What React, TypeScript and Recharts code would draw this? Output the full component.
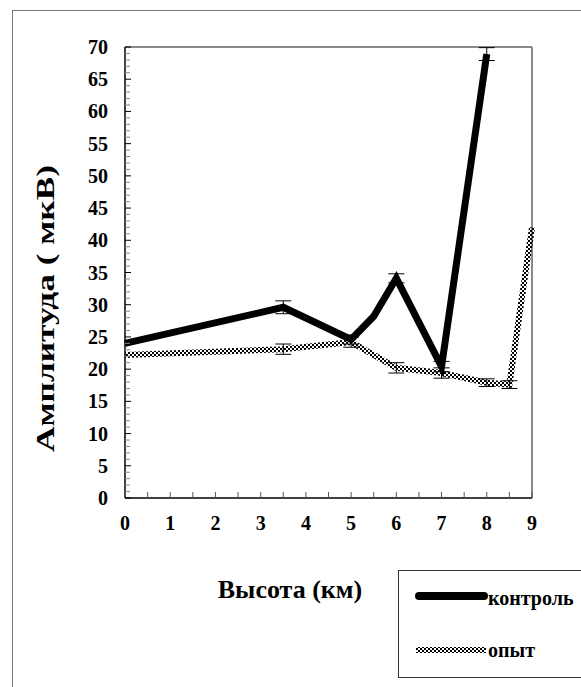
import { LineChart, Line, XAxis, YAxis, ErrorBar, ReferenceLine } from "recharts";

// высота (км) и амплитуда (мкВ)
const controlHeights = [0, 3.5, 5, 5.5, 6, 7, 8];
const controlValues = [24, 29.6, 24.6, 28.2, 34.1, 20.4, 68.9];
const controlErrors = [null, 1, 0.7, null, 0.7, 0.8, 1];

const opytHeights = [0, 3.5, 5, 6, 7, 8, 8.5, 9];
const opytValues = [22.2, 23.1, 24.2, 20.2, 19.4, 17.9, 17.6, 42];
const opytErrors = [null, 0.8, 0.8, 0.8, 0.8, 0.6, 0.6, null];

const xTicks = [0, 0.5, 1, 1.5, 2, 2.5, 3, 3.5, 4, 4.5, 5, 5.5, 6, 6.5, 7, 7.5, 8, 8.5, 9];
const yTicks = Array.from({ length: 71 }, (_, i) => i);

const controlData = controlHeights.map((h, i) => ({ h, v: controlValues[i], err: controlErrors[i] }));
const opytData = opytHeights.map((h, i) => ({ h, v: opytValues[i], err: opytErrors[i] }));

const textStyle = { fontFamily: "Liberation Serif", fontWeight: 700 };

const XTick = ({ x, y, payload }: any) => {
  const v = payload.value;
  return (
    <g>
      <line x1={x} x2={x} y1={y} y2={y - 6} stroke="#555" strokeWidth={1} />
      {Number.isInteger(v) && (
        <text x={x} y={y + 32} textAnchor="middle" style={textStyle} fontSize={20} fill="#000">
          {v}
        </text>
      )}
    </g>
  );
};

const YTick = ({ x, y, payload }: any) => {
  const v = payload.value;
  const major = v % 5 === 0;
  return (
    <g>
      <line x1={x} x2={x + (major ? 6 : 5)} y1={y} y2={y} stroke={major ? "#000" : "#888"} strokeWidth={1} />
      {major && (
        <text x={x - 17} y={y + 7} textAnchor="end" style={textStyle} fontSize={20} fill="#000">
          {v}
        </text>
      )}
    </g>
  );
};

const Checker = ({ id }: { id: string }) => (
  <pattern id={id} width="4" height="4" patternUnits="userSpaceOnUse">
    <rect width="2" height="2" fill="#000" />
    <rect x="2" y="2" width="2" height="2" fill="#000" />
  </pattern>
);

export default function App() {
  return (
    <div style={{ position: "absolute", left: 0, top: 0, width: 581, height: 687, overflow: "hidden", background: "#fff" }}>
      <svg width={581} height={687} style={{ position: "absolute", left: 0, top: 0 }}>
        <defs>
          <Checker id="checkerLegend" />
        </defs>
        <rect x={12.5} y={10.5} width={700} height={800} fill="none" stroke="#777" strokeWidth={1} />
        <text
          transform="translate(54, 308.5) rotate(-90)"
          textAnchor="middle"
          textLength={287}
          lengthAdjust="spacingAndGlyphs"
          style={textStyle}
          fontSize={25}
          fill="#000"
        >
          Амплитуда ( мкВ)
        </text>
        <text x={290} y={598} textAnchor="middle" style={textStyle} fontSize={26} fill="#000">
          Высота (км)
        </text>
        <rect x={398.5} y={570.5} width={300} height={107} fill="none" stroke="#333" strokeWidth={1} />
        <line x1={419} x2={484} y1={596} y2={596} stroke="#000" strokeWidth={8} strokeLinecap="round" />
        <text x={488} y={605} style={textStyle} fontSize={20} fill="#000">
          контроль
        </text>
        <rect x={416} y={647} width={70} height={6} fill="url(#checkerLegend)" />
        <text x={488} y={657} style={textStyle} fontSize={20} fill="#000">
          опыт
        </text>
      </svg>
      <div style={{ position: "absolute", left: 0, top: 0 }}>
        <LineChart width={581} height={687} margin={{ top: 47, right: 49, bottom: 149, left: 65 }}>
          <defs>
            <Checker id="checkerLine" />
          </defs>
          <XAxis
            dataKey="h"
            type="number"
            domain={[0, 9]}
            ticks={xTicks}
            interval={0}
            allowDuplicatedCategory={false}
            height={40}
            tickSize={0}
            tickMargin={0}
            tick={<XTick />}
            axisLine={{ stroke: "#000", strokeWidth: 1.5 }}
          />
          <YAxis
            type="number"
            domain={[0, 70]}
            ticks={yTicks}
            interval={0}
            width={60}
            tickSize={0}
            tickMargin={0}
            tick={<YTick />}
            axisLine={{ stroke: "#000", strokeWidth: 1.5 }}
          />
          <ReferenceLine y={70} stroke="#888" strokeWidth={2} />
          <ReferenceLine x={9} stroke="#888" strokeWidth={2} />
          <Line
            data={opytData}
            dataKey="v"
            type="linear"
            stroke="url(#checkerLine)"
            strokeWidth={6}
            dot={false}
            isAnimationActive={false}
          >
            <ErrorBar dataKey="err" direction="y" width={8} stroke="#000" strokeWidth={1} />
          </Line>
          <Line
            data={controlData}
            dataKey="v"
            type="linear"
            stroke="#000"
            strokeWidth={7}
            dot={false}
            isAnimationActive={false}
          >
            <ErrorBar dataKey="err" direction="y" width={8} stroke="#000" strokeWidth={1} />
          </Line>
        </LineChart>
      </div>
    </div>
  );
}
